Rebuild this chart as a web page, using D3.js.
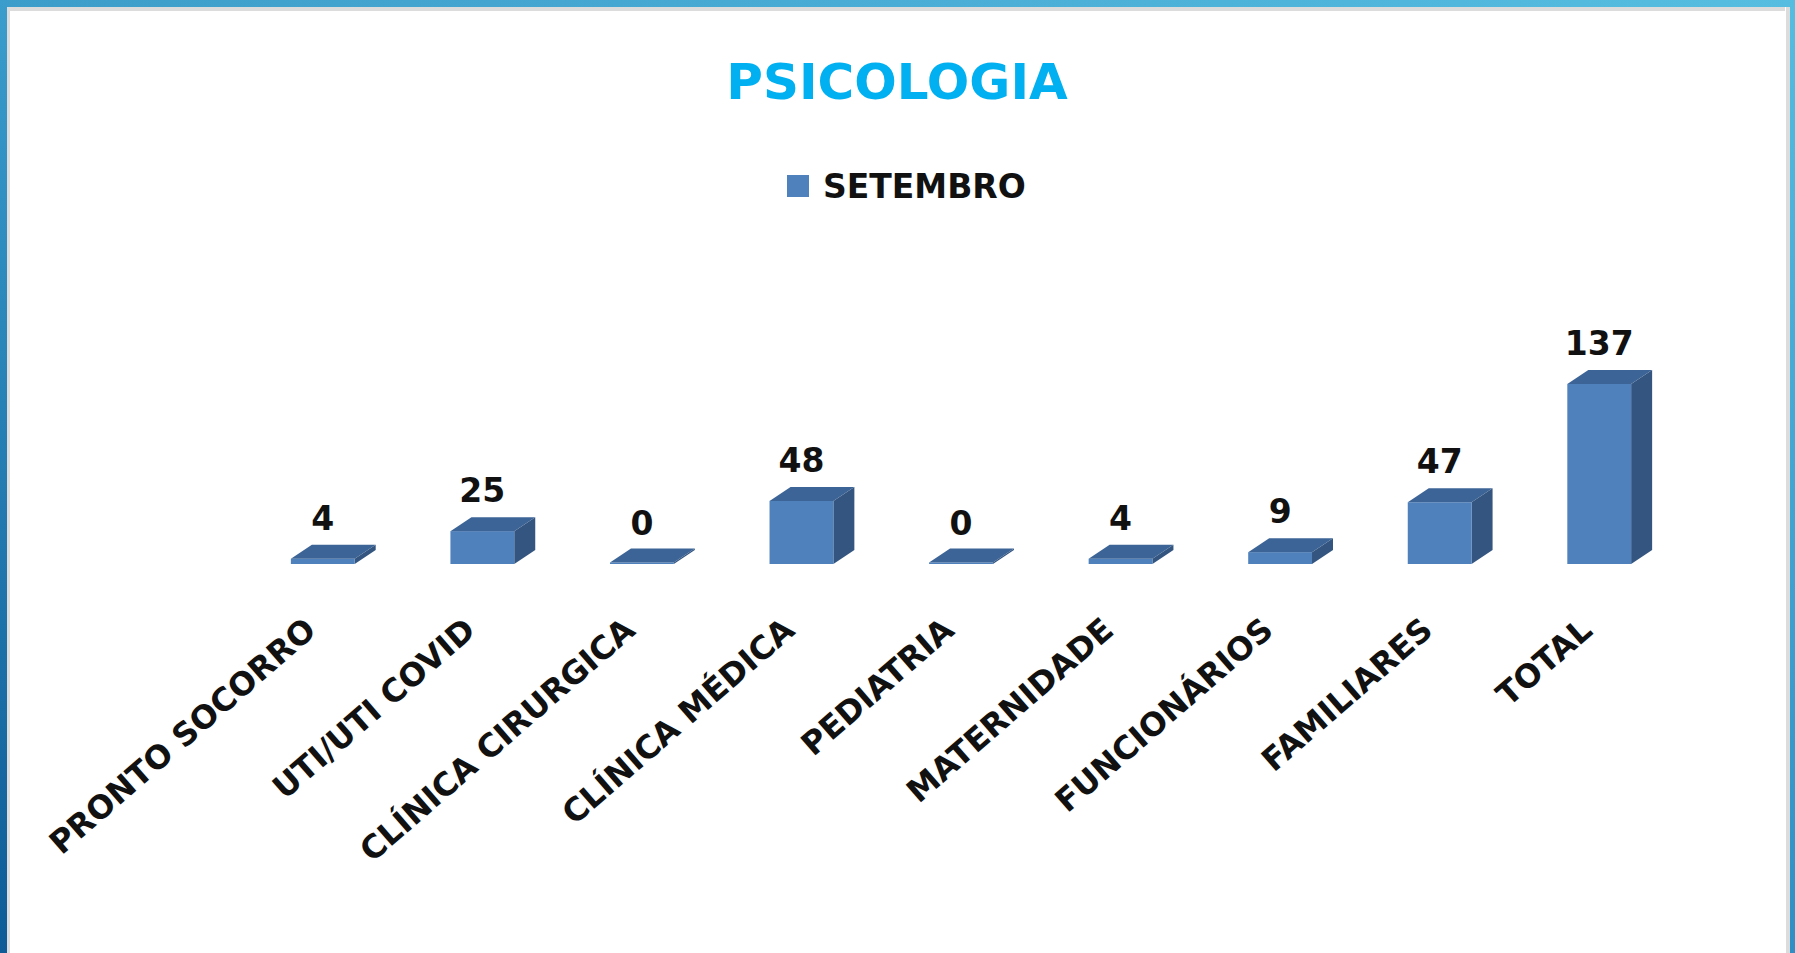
<!DOCTYPE html>
<html>
<head>
<meta charset="utf-8">
<script src="https://cdn.jsdelivr.net/npm/d3@7"></script>
<style>
  html, body { margin: 0; padding: 0; background: #fff; }
  svg { display: block; }
</style>
</head>
<body>
<svg id="chart" width="1795" height="953"></svg>
<script>
const categories = ["PRONTO SOCORRO", "UTI/UTI COVID", "CLÍNICA CIRURGICA", "CLÍNICA MÉDICA", "PEDIATRIA", "MATERNIDADE", "FUNCIONÁRIOS", "FAMILIARES", "TOTAL"];
const values = [4, 25, 0, 48, 0, 4, 9, 47, 137];
const seriesName = "SETEMBRO";
const titleText = "PSICOLOGIA";

const W = 1795, H = 953;
const svg = d3.select("#chart");
const FONT = "'DejaVu Sans', sans-serif";

// gradients for the frame
const defs = svg.append("defs");
const gTop = defs.append("linearGradient").attr("id", "gTop").attr("x1", "0").attr("x2", "1").attr("y1", "0").attr("y2", "0");
gTop.append("stop").attr("offset", "0").attr("stop-color", "#3d9dca");
gTop.append("stop").attr("offset", "1").attr("stop-color", "#56bde0");
const gLeft = defs.append("linearGradient").attr("id", "gLeft").attr("x1", "0").attr("x2", "0").attr("y1", "0").attr("y2", "1");
gLeft.append("stop").attr("offset", "0").attr("stop-color", "#3a9dcc");
gLeft.append("stop").attr("offset", "1").attr("stop-color", "#0e5b97");
const gRight = defs.append("linearGradient").attr("id", "gRight").attr("x1", "0").attr("x2", "0").attr("y1", "0").attr("y2", "1");
gRight.append("stop").attr("offset", "0").attr("stop-color", "#55bde0");
gRight.append("stop").attr("offset", "1").attr("stop-color", "#2f8fc4");

svg.append("rect").attr("x", 0).attr("y", 0).attr("width", W).attr("height", H).attr("fill", "#fff");
// inner gray edge
svg.append("rect").attr("x", 6).attr("y", 7).attr("width", 1785 - 6).attr("height", 4).attr("fill", "#dcdcdc");
svg.append("rect").attr("x", 6).attr("y", 7).attr("width", 4).attr("height", H - 7).attr("fill", "#dcdcdc");
svg.append("rect").attr("x", 1786).attr("y", 7).attr("width", 5).attr("height", H - 7).attr("fill", "#dcdcdc");
// blue frame
svg.append("rect").attr("x", 0).attr("y", 0).attr("width", W).attr("height", 7).attr("fill", "url(#gTop)");
svg.append("rect").attr("x", 0).attr("y", 0).attr("width", 7).attr("height", H).attr("fill", "url(#gLeft)");
svg.append("rect").attr("x", 1790).attr("y", 0).attr("width", 5).attr("height", H).attr("fill", "url(#gRight)");

// title
svg.append("text").attr("x", 897).attr("y", 99).attr("text-anchor", "middle")
  .attr("font-family", FONT).attr("font-weight", "bold").attr("font-size", 50)
  .attr("fill", "#00b0f0").text(titleText);

// legend
svg.append("rect").attr("x", 787).attr("y", 175).attr("width", 22).attr("height", 22).attr("fill", "#4f81bd");
svg.append("text").attr("x", 823).attr("y", 198)
  .attr("font-family", FONT).attr("font-weight", "bold").attr("font-size", 33)
  .attr("fill", "#111").text(seriesName);

// scales
const x = d3.scaleBand().domain(categories).range([243, 1679]).paddingInner(0.6).paddingOuter(0.3);
const y = d3.scaleLinear().domain([0, 137]).range([564, 384]);
const dx = 21, dy = 14;

const data = categories.map((c, i) => ({ c, v: values[i] }));
const bars = svg.append("g").selectAll("g").data(data).join("g");

bars.each(function(d) {
  const g = d3.select(this);
  const x0 = x(d.c), x1 = x0 + x.bandwidth();
  const yb = y(0);
  const yt = Math.min(y(d.v), yb - 1.5);
  // side
  g.append("path").attr("d", `M${x1},${yt} L${x1 + dx},${yt - dy} L${x1 + dx},${yb - dy} L${x1},${yb} Z`).attr("fill", "#34557f");
  // front
  g.append("rect").attr("x", x0).attr("y", yt).attr("width", x.bandwidth()).attr("height", yb - yt).attr("fill", "#4f81bd");
  // top
  g.append("path").attr("d", `M${x0},${yt} L${x0 + dx},${yt - dy} L${x1 + dx},${yt - dy} L${x1},${yt} Z`).attr("fill", "#3c6496");
  // value label
  g.append("text").attr("x", x0 + x.bandwidth() / 2).attr("y", y(d.v) - dy - 15)
    .attr("text-anchor", "middle").attr("font-family", FONT).attr("font-weight", "bold")
    .attr("font-size", 33).attr("fill", "#111").text(d.v);
});

// category labels
const xAxis = svg.append("g");
xAxis.selectAll("text").data(categories).join("text")
  .attr("transform", d => `translate(${x(d) + x.bandwidth() / 2 - 5},${633}) rotate(-41)`)
  .attr("text-anchor", "end")
  .attr("font-family", FONT).attr("font-weight", "bold").attr("font-size", 32)
  .attr("fill", "#111").text(d => d);
</script>
</body>
</html>
